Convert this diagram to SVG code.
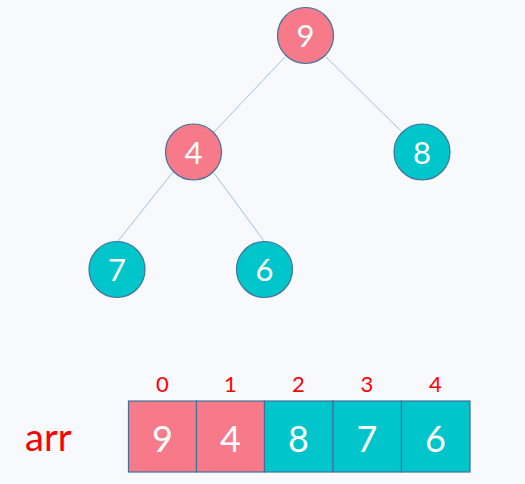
<svg xmlns="http://www.w3.org/2000/svg" width="525" height="484" viewBox="0 0 525 484">
<style>
.pink{fill:#F67A8A}
.teal{fill:#00C5CB}
.node{stroke:#41719C;stroke-width:1.2}
.cell{stroke:#41719C;stroke-width:1.2}
.num{font-family:Lato,"Open Sans",sans-serif;fill:#FFFFFF;text-anchor:middle}
.idx{font-family:Lato,"Open Sans",sans-serif;fill:#FF0000;text-anchor:middle;font-size:22px}
.edge{stroke:#9DC3E6;stroke-width:1}
</style>
<rect width="525" height="484" fill="#F7F9FC"/>
<g id="connectors">
<line class="edge" x1="285" y1="57" x2="214" y2="132"/>
<line class="edge" x1="326" y1="57" x2="401" y2="131"/>
<line class="edge" x1="173" y1="172" x2="118" y2="241"/>
<line class="edge" x1="214" y1="173" x2="264" y2="241"/>
</g>
<g id="node-9"><circle class="node pink" cx="305.5" cy="35.5" r="28"/><text class="num" x="305.5" y="47" font-size="31">9</text></g>
<g id="node-4"><circle class="node pink" cx="193.5" cy="152" r="28"/><text class="num" x="193.5" y="163.5" font-size="31">4</text></g>
<g id="node-8"><circle class="node teal" cx="422" cy="152" r="28"/><text class="num" x="422" y="163.5" font-size="31">8</text></g>
<g id="node-7"><circle class="node teal" cx="117" cy="269.5" r="28"/><text class="num" x="117" y="281" font-size="31">7</text></g>
<g id="node-6"><circle class="node teal" cx="264.5" cy="269.5" r="28"/><text class="num" x="264.5" y="281" font-size="31">6</text></g>
<g id="array">
<text x="25" y="451" font-family="Lato,'Open Sans',sans-serif" font-size="38" fill="#FF0000">arr</text>
<g id="cell-0"><rect class="cell pink" x="128.5" y="401" width="68" height="71"/><text class="idx" x="162.5" y="392">0</text><text class="num" x="162.5" y="451.5" font-size="36">9</text></g>
<g id="cell-1"><rect class="cell pink" x="196.5" y="401" width="68" height="71"/><text class="idx" x="230.5" y="392">1</text><text class="num" x="230.5" y="451.5" font-size="36">4</text></g>
<g id="cell-2"><rect class="cell teal" x="264.5" y="401" width="68.5" height="71"/><text class="idx" x="298.5" y="392">2</text><text class="num" x="298.5" y="451.5" font-size="36">8</text></g>
<g id="cell-3"><rect class="cell teal" x="333" y="401" width="68.5" height="71"/><text class="idx" x="367" y="392">3</text><text class="num" x="367" y="451.5" font-size="36">7</text></g>
<g id="cell-4"><rect class="cell teal" x="401.5" y="401" width="68.5" height="71"/><text class="idx" x="435.5" y="392">4</text><text class="num" x="435.5" y="451.5" font-size="36">6</text></g>
</g>
</svg>
